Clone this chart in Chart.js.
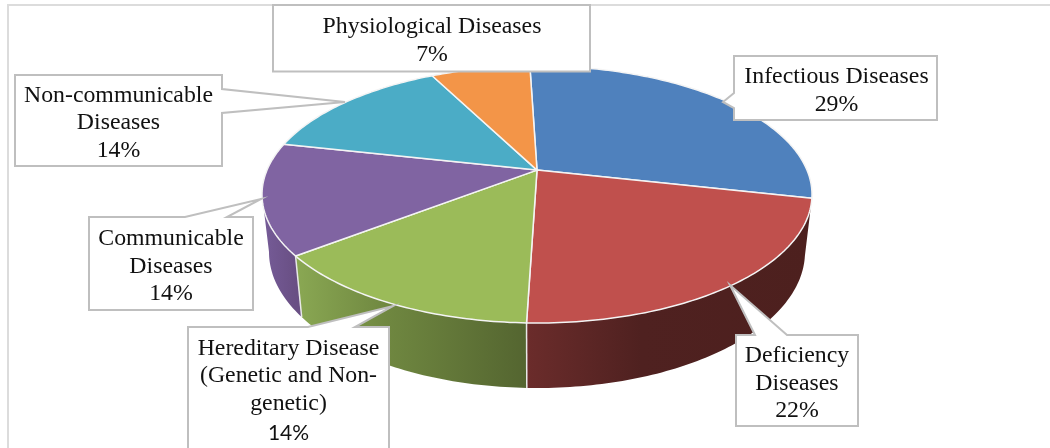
<!DOCTYPE html>
<html>
<head>
<meta charset="utf-8">
<script src="https://cdn.jsdelivr.net/npm/chart.js@4"></script>
<style>
  html, body { margin: 0; padding: 0; background: #fff; overflow: hidden; }
  canvas { display: block; }
</style>
</head>
<body>
<canvas id="myChart" width="1050" height="448"></canvas>
<script>
// data
const categories = [
  ["Infectious Diseases"],
  ["Deficiency", "Diseases"],
  ["Hereditary Disease", "(Genetic and Non-", "genetic)"],
  ["Communicable", "Diseases"],
  ["Non-communicable", "Diseases"],
  ["Physiological Diseases"],
];
const shares = [29, 22, 14, 14, 14, 7];

// look
const sliceColors = ["#4f81bd", "#c0504d", "#9bbb59", "#8064a2", "#4bacc6", "#f39548"];
const wallStops = [
  null,
  [[0, "#4d201e"], [0.6, "#4f2120"], [1, "#6b2c2b"]],
  [[0, "#546530"], [0.6, "#6f8740"], [1, "#8aa853"]],
  [[0, "#694f84"], [1, "#765c98"]],
  null,
  null,
];

// top face and bottom rim of the disc, tilt moves the pie centre up the ellipse
const topRim = { cx: 537, cy: 194.5, rx: 275, ry: 128.5 };
const bottomRim = { cx: 537, cy: 252, rx: 268, ry: 136 };
const tilt = -0.19;

// callout boxes: box edges, pointer base and tip, text centre and baselines
const callouts = [
  { box: [734, 56, 937, 120], side: "left", base: [93, 108], tip: [723, 102], x: 836.5, y: [83, 110.5] },
  { box: [736, 335, 858, 426], side: "top", base: [755, 787], tip: [730, 285], x: 797, y: [362, 389.5, 417] },
  { box: [188, 327, 389, 470], side: "top", base: [308, 355], tip: [393, 306], x: 288.5, y: [355, 382, 410, 440], sansLast: true },
  { box: [89, 217, 253, 310], side: "top", base: [185, 227], tip: [261, 199], x: 171, y: [245, 272.5, 300] },
  { box: [15, 75, 222, 166], side: "right", base: [89, 113], tip: [345, 102], x: 118.5, y: [101.5, 129, 157] },
  { box: [273, 5, 590, 71.5], x: 432, y: [33, 61] },
];

// maps an angle on the pie to a point on a rim, with perspective
function rimPoint(rim, angle) {
  const u = Math.cos(angle);
  const v = Math.sin(angle);
  const d = 1 + tilt * v;
  return [
    rim.cx + rim.rx * u * Math.sqrt(1 - tilt * tilt) / d,
    rim.cy + rim.ry * (v + tilt) / d,
  ];
}

function rimPath(ctx, rim, from, to) {
  const steps = Math.max(2, Math.ceil(Math.abs(to - from) * 60));
  for (let i = 0; i <= steps; i++) {
    const p = rimPoint(rim, from + (to - from) * i / steps);
    ctx.lineTo(p[0], p[1]);
  }
}

const tiltedPie = {
  id: "tiltedPie",
  // frame of the chart
  beforeDraw(chart) {
    const ctx = chart.ctx;
    ctx.save();
    ctx.strokeStyle = "#dcdcdc";
    ctx.lineWidth = 2;
    ctx.beginPath();
    ctx.moveTo(8, 448);
    ctx.lineTo(8, 5);
    ctx.lineTo(1050, 5);
    ctx.stroke();
    ctx.restore();
  },
  // the arcs keep their angles from the library, only the drawing is replaced
  beforeDatasetsDraw(chart) {
    const ctx = chart.ctx;
    const arcs = chart.getDatasetMeta(0).data;
    const center = [topRim.cx, topRim.cy + topRim.ry * tilt];
    // only the part of the rim below the widest point shows a wall
    const frontEnd = Math.PI - Math.asin(-tilt);

    ctx.save();
    ctx.lineJoin = "round";

    // side wall
    arcs.forEach((arc, i) => {
      if (!wallStops[i]) return;
      const end = Math.min(arc.endAngle, frontEnd);
      const a = rimPoint(topRim, arc.startAngle);
      const b = rimPoint(topRim, end);
      const grad = ctx.createLinearGradient(a[0], 0, b[0], 0);
      wallStops[i].forEach((s) => grad.addColorStop(s[0], s[1]));
      ctx.beginPath();
      rimPath(ctx, topRim, arc.startAngle, end);
      rimPath(ctx, bottomRim, end, arc.startAngle);
      ctx.closePath();
      ctx.fillStyle = grad;
      ctx.fill();
    });

    // seams between the walls
    ctx.strokeStyle = "#e8e8e8";
    ctx.lineWidth = 1.5;
    [1, 2].forEach((i) => {
      const a = rimPoint(topRim, arcs[i].endAngle);
      const b = rimPoint(bottomRim, arcs[i].endAngle);
      ctx.beginPath();
      ctx.moveTo(a[0], a[1]);
      ctx.lineTo(b[0], b[1]);
      ctx.stroke();
    });

    // top face
    arcs.forEach((arc) => {
      ctx.beginPath();
      ctx.moveTo(center[0], center[1]);
      rimPath(ctx, topRim, arc.startAngle, arc.endAngle);
      ctx.closePath();
      ctx.fillStyle = arc.options.backgroundColor;
      ctx.fill();
      ctx.strokeStyle = arc.options.borderColor;
      ctx.lineWidth = arc.options.borderWidth;
      ctx.stroke();
    });

    ctx.restore();
    return false;
  },
  // callouts over the pie
  afterDraw(chart) {
    const ctx = chart.ctx;
    ctx.save();
    callouts.forEach((c, i) => {
      const [x0, y0, x1, y1] = c.box;
      ctx.beginPath();
      ctx.moveTo(x0, y0);
      if (c.side === "top") {
        ctx.lineTo(c.base[0], y0);
        ctx.lineTo(c.tip[0], c.tip[1]);
        ctx.lineTo(c.base[1], y0);
      }
      ctx.lineTo(x1, y0);
      if (c.side === "right") {
        ctx.lineTo(x1, c.base[0]);
        ctx.lineTo(c.tip[0], c.tip[1]);
        ctx.lineTo(x1, c.base[1]);
      }
      ctx.lineTo(x1, y1);
      ctx.lineTo(x0, y1);
      if (c.side === "left") {
        ctx.lineTo(x0, c.base[1]);
        ctx.lineTo(c.tip[0], c.tip[1]);
        ctx.lineTo(x0, c.base[0]);
      }
      ctx.closePath();
      ctx.fillStyle = "#fff";
      ctx.fill();
      ctx.strokeStyle = "#bfbfbf";
      ctx.lineWidth = 2;
      ctx.stroke();

      const lines = categories[i].concat(shares[i] + "%");
      ctx.fillStyle = "#111";
      ctx.textAlign = "center";
      ctx.textBaseline = "alphabetic";
      lines.forEach((line, n) => {
        const last = n === lines.length - 1;
        ctx.font = c.sansLast && last ? "21px Lato" : "23.8px 'Liberation Serif'";
        ctx.fillText(line, c.x, c.y[n]);
      });
    });
    ctx.restore();
  },
};

// config
const config = {
  type: "pie",
  data: {
    labels: categories,
    datasets: [
      {
        data: shares,
        backgroundColor: sliceColors,
        borderColor: "#f4f4f4",
        borderWidth: 1.5,
      },
    ],
  },
  options: {
    responsive: false,
    animation: false,
    rotation: -1.8,
    plugins: {
      legend: { display: false },
      tooltip: { enabled: false },
    },
  },
  plugins: [tiltedPie],
};

// render init block
const myChart = new Chart(document.getElementById("myChart"), config);
</script>
</body>
</html>
